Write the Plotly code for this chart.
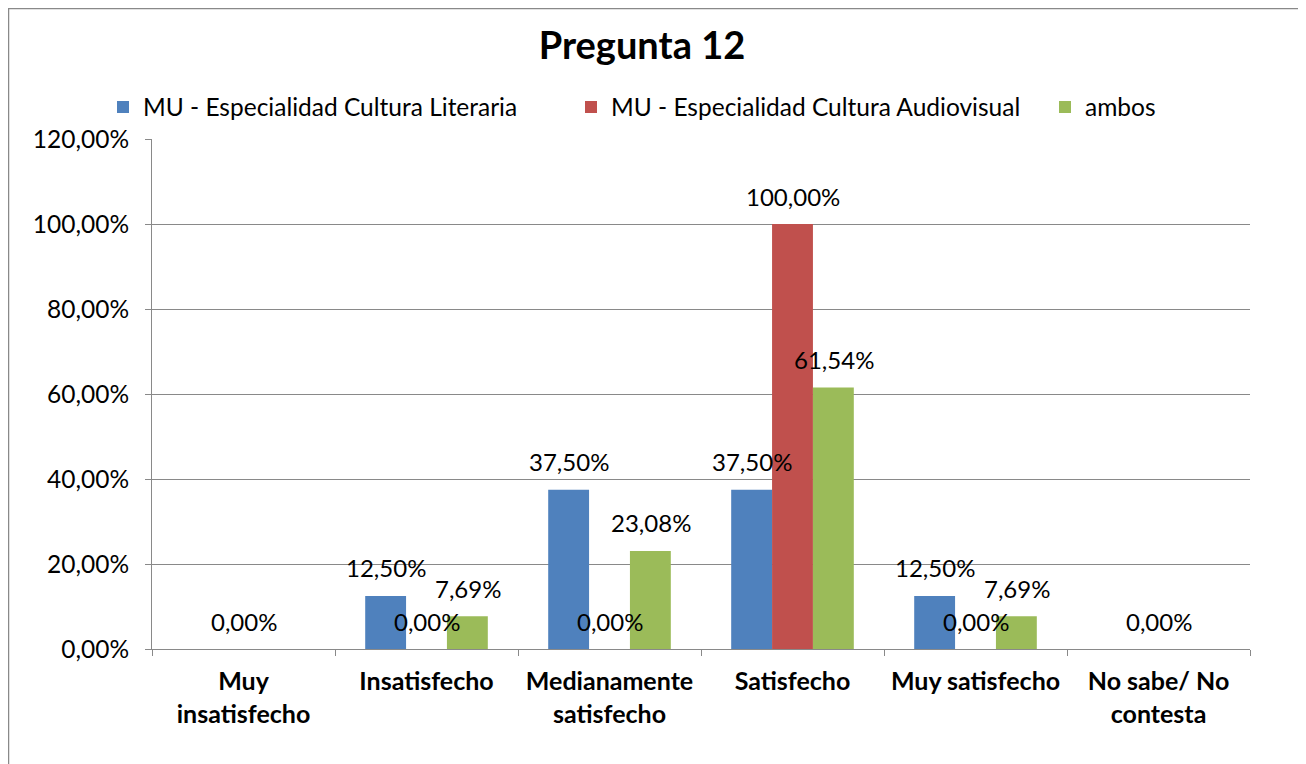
import plotly.graph_objects as go

categories = ["Muy insatisfecho", "Insatisfecho", "Medianamente satisfecho",
              "Satisfecho", "Muy satisfecho", "No sabe/ No contesta"]
tick_labels = ["<b>Muy<br>insatisfecho</b>", "<b>Insatisfecho</b>",
               "<b>Medianamente<br>satisfecho</b>", "<b>Satisfecho</b>",
               "<b>Muy satisfecho</b>", "<b>No sabe/ No<br>contesta</b>"]
literaria = [None, 0.125, 0.375, 0.375, 0.125, None]
audiovisual = [0.0, 0.0, 0.0, 1.0, 0.0, 0.0]
ambos = [None, 0.0769, 0.2308, 0.6154, 0.0769, None]
y_ticks = [0.0, 0.2, 0.4, 0.6, 0.8, 1.0, 1.2]

# name, values, colour, label x-offset (px), legend id, legend x on page (px)
series = [
    ("MU - Especialidad Cultura Literaria", literaria, "#4F81BD", -41, "legend", 103),
    ("MU - Especialidad Cultura Audiovisual", audiovisual, "#C0504D", 0, "legend2", 571),
    ("ambos", ambos, "#9BBB59", 41, "legend3", 1045),
]

# page has an 8px body margin, so the figure itself is 8px smaller
W, H = 1298, 756
M = dict(l=144, r=56, t=131, b=115)
pw, ph = W - M["l"] - M["r"], H - M["t"] - M["b"]

def pct(v):
    return f"{v * 100:.2f}%".replace(".", ",")

fig = go.Figure()
annotations = []
legends = {}
for name, vals, color, dx, leg, lx in series:
    fig.add_trace(go.Bar(x=categories, y=vals, name=name, marker_color=color,
                         marker_line_width=0, legend=leg, showlegend=True))
    legends[leg] = dict(orientation="h", x=(lx - 8 - M["l"]) / pw, xanchor="left",
                        y=(ph - (99 - M["t"])) / ph, yanchor="middle",
                        font=dict(size=24.5), bgcolor="rgba(0,0,0,0)",
                        itemclick=False)
    for c, v in zip(categories, vals):
        if v is None:
            continue
        annotations.append(dict(x=c, y=v, text=pct(v), showarrow=False,
                                xshift=dx, yshift=28, yanchor="middle",
                                font=dict(size=24, color="#000000")))

fig.update_layout(
    width=W, height=H, margin=M,
    template="plotly_white",
    showlegend=True,
    paper_bgcolor="white", plot_bgcolor="white",
    font=dict(family="Lato", size=24, color="#000000"),
    separators=",.",
    barmode="group", bargap=0.33, bargroupgap=0,
    title=dict(text="<b>Pregunta 12</b>", x=(642 - 8) / W, xanchor="center",
               y=1 - 38 / H, yanchor="middle", font=dict(size=38)),
    annotations=annotations,
    shapes=[dict(type="rect", xref="paper", yref="paper",
                 x0=(0.5 - M["l"]) / pw, x1=(W - 0.5 - M["l"]) / pw,
                 y0=(ph - (H + 20 - M["t"])) / ph, y1=(ph - (0.5 - M["t"])) / ph,
                 line=dict(color="#898989", width=1.5), layer="below")],
    **legends,
)
fig.update_xaxes(
    tickvals=categories, ticktext=tick_labels, tickfont=dict(size=25),
    showline=True, linecolor="#898989", linewidth=1,
    ticks="outside", tickson="boundaries", ticklen=6, tickcolor="#898989",
    ticklabelstandoff=10, showgrid=False,
)
fig.update_yaxes(
    range=[0, 1.2], tickvals=y_ticks, tickformat=".2%",
    showline=True, linecolor="#898989", linewidth=1,
    ticks="outside", ticklen=6, tickcolor="#898989", ticklabelstandoff=11,
    showgrid=True, gridcolor="#898989", gridwidth=1, zeroline=False,
    tickfont=dict(size=24.5),
)

fig.write_html("out.html")
